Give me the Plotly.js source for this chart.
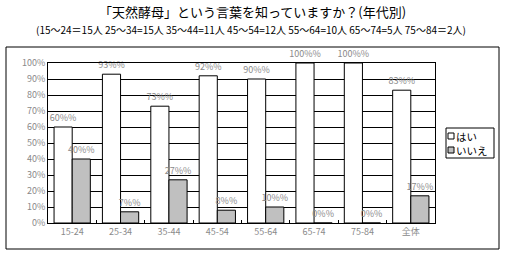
<!DOCTYPE html>
<html><head><meta charset="utf-8">
<script src="https://cdn.plot.ly/plotly-3.0.1.min.js"></script>
<style>html,body{margin:0;padding:0;background:#fff}#c{width:505px;height:256px}</style>
</head><body><div id="c"></div>
<script>
const categories = ['15-24','25-34','35-44','45-54','55-64','65-74','75-84','全体'];
const yesValues = [60,93,73,92,90,100,100,83];
const noValues = [40,7,27,8,10,0,0,17];
const seriesNames = ['はい','いいえ'];
const seriesColors = ['#ffffff','#c0c0c0'];
const titleText = '「天然酵母」という言葉を知っていますか？(年代別)';
const subtitleText = '(15～24＝15人 25～34=15人 35～44=11人 45～54=12人 55～64=10人 65～74=5人 75～84＝2人)';

const font = 'Noto Sans CJK JP, sans-serif';
function mk(y, i){
  return {type:'bar', x:categories, y:y, name:seriesNames[i],
    texttemplate:'%{y}%', textposition:'outside', cliponaxis:false, constraintext:'none',
    textfont:{family:font,size:9,color:'#8a8a8a'},
    marker:{color:seriesColors[i], line:{color:'#000',width:1}}};
}
const data = [mk(yesValues,0), mk(noValues,1)];

const W = 387, H = 160, L = 48, T = 63;
const px = v => (v - L) / W;
const py = v => (T + H - v) / H;

const shapes = [
  {type:'rect', xref:'paper', yref:'paper', x0:px(6), x1:px(499), y0:py(249), y1:py(47), line:{color:'#000',width:1}, layer:'below'},
  {type:'rect', xref:'paper', yref:'paper', x0:px(446), x1:px(494), y0:py(158), y1:py(128), line:{color:'#000',width:1}, fillcolor:'#fff'}
];
const annotations = [
  {text:titleText, xref:'paper', yref:'paper', x:px(252), y:py(12), xanchor:'center', yanchor:'middle', showarrow:false,
   font:{family:font,size:13,color:'#000'}},
  {text:subtitleText, xref:'paper', yref:'paper', x:px(251), y:py(29), xanchor:'center', yanchor:'middle', showarrow:false,
   font:{family:font,size:10,color:'#000'}}
];
seriesNames.forEach((n,i)=>{
  const cy = 136 + i*14;
  shapes.push({type:'rect', xref:'paper', yref:'paper', x0:px(448), x1:px(454), y0:py(cy+3), y1:py(cy-3),
    line:{color:'#000',width:1}, fillcolor:seriesColors[i]});
  annotations.push({text:n, xref:'paper', yref:'paper', x:px(455), y:py(cy), xanchor:'left', yanchor:'middle', showarrow:false,
    font:{family:font,size:10.5,color:'#000'}, borderpad:0});
});

const layout = {
  width:505, height:256,
  margin:{l:L,r:505-L-W,t:T,b:256-T-H},
  paper_bgcolor:'#fff', plot_bgcolor:'#fff',
  barmode:'group', bargap:0.25, bargroupgap:0,
  showlegend:false,
  xaxis:{type:'category', showline:true, linecolor:'#000', mirror:true, ticks:'inside', ticklen:3, tickcolor:'#000',
    tickson:'boundaries', tickfont:{family:font,size:9,color:'#8a8a8a'}, showgrid:false},
  yaxis:{range:[0,100], dtick:10, ticksuffix:'%', showline:true, linecolor:'#000', mirror:true,
    gridcolor:'#000', gridwidth:1, ticks:'', tickfont:{family:font,size:9,color:'#8a8a8a'}, zeroline:false},
  annotations:annotations,
  shapes:shapes
};
Plotly.newPlot('c', data, layout, {staticPlot:true});
</script></body></html>
